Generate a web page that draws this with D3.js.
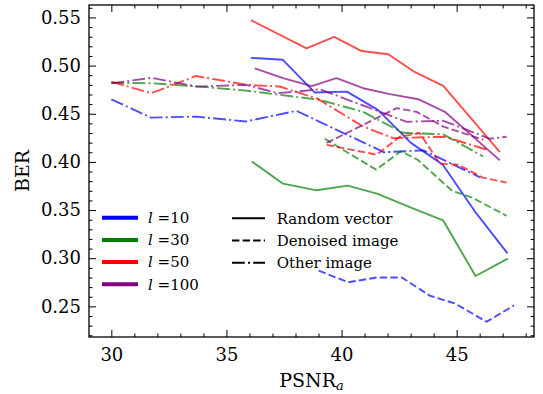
<!DOCTYPE html>
<html><head><meta charset="utf-8">
<script src="https://cdn.jsdelivr.net/npm/d3@7"></script>
<style>body{margin:0;background:#fff}svg text{font-family:"DejaVu Serif",serif;fill:#000}</style>
</head><body><svg id="c" width="543" height="394"></svg>
<script>
// ---- data ----
const xTicks = [30, 35, 40, 45];
const yTicks = [0.25, 0.30, 0.35, 0.40, 0.45, 0.50, 0.55];
const lValues = [10, 30, 50, 100];
const lColors = ["#0000ff", "#008000", "#ff0000", "#800080"];
const methodNames = ["Random vector", "Denoised image", "Other image"];

// l = 10
const l10RandomX = [36.06, 37.45, 38.84, 40.23, 41.58, 43.0, 44.4, 45.84, 47.21];
const l10RandomY = [0.508, 0.506, 0.472, 0.473, 0.454, 0.420, 0.397, 0.347, 0.305];
const l10DenoisedX = [39.01, 40.29, 41.53, 42.62, 43.84, 44.93, 46.30, 47.49];
const l10DenoisedY = [0.287, 0.275, 0.280, 0.280, 0.261, 0.253, 0.234, 0.251];
const l10OtherX = [30.0, 31.72, 33.7, 35.84, 38.04, 41.85, 43.55, 46.02];
const l10OtherY = [0.465, 0.446, 0.447, 0.442, 0.453, 0.410, 0.412, 0.384];
// l = 30
const l30RandomX = [36.1, 37.46, 38.91, 40.27, 41.57, 43.04, 44.41, 45.82, 47.22];
const l30RandomY = [0.4005, 0.3774, 0.3705, 0.3754, 0.3668, 0.3523, 0.3394, 0.2815, 0.2995];
const l30DenoisedX = [39.27, 41.5, 42.58, 43.32, 44.8, 45.67, 47.17];
const l30DenoisedY = [0.424, 0.392, 0.411, 0.402, 0.370, 0.363, 0.344];
const l30OtherX = [30.0, 31.74, 33.7, 35.87, 39.06, 40.93, 42.67, 44.41, 46.15];
const l30OtherY = [0.482, 0.4817, 0.4784, 0.474, 0.4644, 0.452, 0.4302, 0.4287, 0.4056];
// l = 50
const l50RandomX = [36.06, 38.48, 39.68, 40.87, 42.03, 43.19, 44.42, 46.88];
const l50RandomY = [0.5472, 0.5179, 0.5299, 0.5151, 0.5117, 0.4931, 0.4789, 0.4102];
const l50DenoisedX = [39.35, 41.52, 42.53, 43.4, 44.27, 45.06, 46.14, 47.17];
const l50DenoisedY = [0.4177, 0.4075, 0.4261, 0.430, 0.3981, 0.3971, 0.3837, 0.3785];
const l50OtherX = [30.0, 31.74, 33.67, 35.87, 37.32, 38.97, 40.94, 42.24, 44.49, 46.32];
const l50OtherY = [0.4833, 0.4713, 0.4892, 0.480, 0.4783, 0.4654, 0.4367, 0.4247, 0.4261, 0.4126];
// l = 100
const l100RandomX = [36.23, 37.46, 38.70, 39.78, 40.94, 42.10, 43.33, 44.49, 46.88];
const l100RandomY = [0.4972, 0.4869, 0.4786, 0.4869, 0.4765, 0.4703, 0.4651, 0.452, 0.4016];
const l100DenoisedX = [39.35, 42.39, 43.26, 44.42, 46.16];
const l100DenoisedY = [0.4196, 0.4558, 0.452, 0.4367, 0.423];
const l100OtherX = [30.0, 31.74, 33.7, 35.85, 37.24, 39.06, 42.83, 44.42, 46.45, 47.17];
const l100OtherY = [0.4816, 0.4873, 0.4782, 0.480, 0.4713, 0.4754, 0.4416, 0.4427, 0.424, 0.4261];

const seriesTable = [
  {l: 0, m: 0, x: l10RandomX, y: l10RandomY},
  {l: 0, m: 1, x: l10DenoisedX, y: l10DenoisedY},
  {l: 0, m: 2, x: l10OtherX, y: l10OtherY},
  {l: 1, m: 0, x: l30RandomX, y: l30RandomY},
  {l: 1, m: 1, x: l30DenoisedX, y: l30DenoisedY},
  {l: 1, m: 2, x: l30OtherX, y: l30OtherY},
  {l: 2, m: 0, x: l50RandomX, y: l50RandomY},
  {l: 2, m: 1, x: l50DenoisedX, y: l50DenoisedY},
  {l: 2, m: 2, x: l50OtherX, y: l50OtherY},
  {l: 3, m: 0, x: l100RandomX, y: l100RandomY},
  {l: 3, m: 1, x: l100DenoisedX, y: l100DenoisedY},
  {l: 3, m: 2, x: l100OtherX, y: l100OtherY}
];

// ---- layout ----
const L = 89, R = 534, T = 5, B = 337;
const svg = d3.select("#c");
const x = d3.scaleLinear().domain([29.03, 48.36]).range([L, R]);
const y = d3.scaleLinear().domain([0.2182, 0.5629]).range([B, T]);
const dashes = [null, "7.4,3.2", "12.8,3.2,2,3.2"];
const lw = 1.9;

const clipId = "clp";
svg.append("clipPath").attr("id", clipId).append("rect")
  .attr("x", L).attr("y", T).attr("width", R - L).attr("height", B - T);

const line = d3.line().x(d => x(d[0])).y(d => y(d[1]));
const gLines = svg.append("g").attr("clip-path", `url(#${clipId})`);
seriesTable.forEach(s => {
  const pts = s.x.map((v, i) => [v, s.y[i]]);
  gLines.append("path").attr("d", line(pts))
    .attr("fill", "none")
    .attr("stroke", lColors[s.l]).attr("stroke-opacity", 0.7)
    .attr("stroke-width", lw)
    .attr("stroke-linejoin", "round")
    .attr("stroke-dasharray", dashes[s.m]);
});

// ---- axes ----
const xMinor = d3.range(30, 49, 1).filter(v => !xTicks.includes(v));
const yMinor = d3.range(22, 57, 1).map(v => v / 100).filter(v => !yTicks.some(t => Math.abs(t - v) < 1e-9));
const fmtY = d3.format(".2f");
function styleAxis(g) { g.select(".domain").remove(); g.selectAll("line").attr("stroke", "#000").attr("stroke-width", 1); }

svg.append("g").attr("transform", `translate(0,${B})`)
  .call(d3.axisBottom(x).tickValues(xTicks).tickSizeInner(-7).tickSizeOuter(0).tickPadding(11))
  .call(styleAxis).call(g => g.selectAll("text").attr("font-size", 18).attr("font-family", "DejaVu Serif"));
svg.append("g").attr("transform", `translate(0,${B})`)
  .call(d3.axisBottom(x).tickValues(xMinor).tickSizeInner(-3.5).tickSizeOuter(0).tickFormat(""))
  .call(styleAxis);
svg.append("g").attr("transform", `translate(0,${T})`)
  .call(d3.axisTop(x).tickValues(xTicks).tickSizeInner(-7).tickSizeOuter(0).tickFormat(""))
  .call(styleAxis);
svg.append("g").attr("transform", `translate(0,${T})`)
  .call(d3.axisTop(x).tickValues(xMinor).tickSizeInner(-3.5).tickSizeOuter(0).tickFormat(""))
  .call(styleAxis);
svg.append("g").attr("transform", `translate(${L},0)`)
  .call(d3.axisLeft(y).tickValues(yTicks).tickSizeInner(-7).tickSizeOuter(0).tickPadding(8).tickFormat(fmtY))
  .call(styleAxis).call(g => g.selectAll("text").attr("font-size", 18).attr("font-family", "DejaVu Serif"));
svg.append("g").attr("transform", `translate(${L},0)`)
  .call(d3.axisLeft(y).tickValues(yMinor).tickSizeInner(-3.5).tickSizeOuter(0).tickFormat(""))
  .call(styleAxis);
svg.append("g").attr("transform", `translate(${R},0)`)
  .call(d3.axisRight(y).tickValues(yTicks).tickSizeInner(-7).tickSizeOuter(0).tickFormat(""))
  .call(styleAxis);
svg.append("g").attr("transform", `translate(${R},0)`)
  .call(d3.axisRight(y).tickValues(yMinor).tickSizeInner(-3.5).tickSizeOuter(0).tickFormat(""))
  .call(styleAxis);

svg.append("rect").attr("x", L).attr("y", T).attr("width", R - L).attr("height", B - T)
  .attr("fill", "none").attr("stroke", "#000").attr("stroke-width", 1.3);

// axis labels
const xl = svg.append("text").attr("x", (L + R) / 2).attr("y", 387).attr("text-anchor", "middle").attr("font-size", 19);
xl.append("tspan").text("PSNR");
xl.append("tspan").attr("font-size", 13).attr("font-style", "italic").attr("dy", 3).text("a");
svg.append("text").attr("transform", `translate(28.5,${(T + B) / 2}) rotate(-90)`)
  .attr("text-anchor", "middle").attr("font-size", 19).text("BER");

// ---- legends ----
const legA = svg.append("g");
lValues.forEach((v, i) => {
  const cy = 217.7 + i * 22.2;
  legA.append("line").attr("x1", 102).attr("x2", 138).attr("y1", cy).attr("y2", cy)
    .attr("stroke", lColors[i]).attr("stroke-width", 4);
  const t = legA.append("text").attr("x", 148).attr("y", cy + 5.3).attr("font-size", 15);
  t.append("tspan").attr("font-style", "italic").text("l");
  t.append("tspan").text(" =" + v);
});
const legB = svg.append("g");
methodNames.forEach((name, i) => {
  const cy = 218.3 + i * 22.2;
  legB.append("line").attr("x1", 232).attr("x2", 265).attr("y1", cy).attr("y2", cy)
    .attr("stroke", "#000").attr("stroke-width", 2).attr("stroke-dasharray", dashes[i]);
  legB.append("text").attr("x", 276.7).attr("y", cy + 5.3).attr("font-size", 15).text(name);
});
</script></body></html>
